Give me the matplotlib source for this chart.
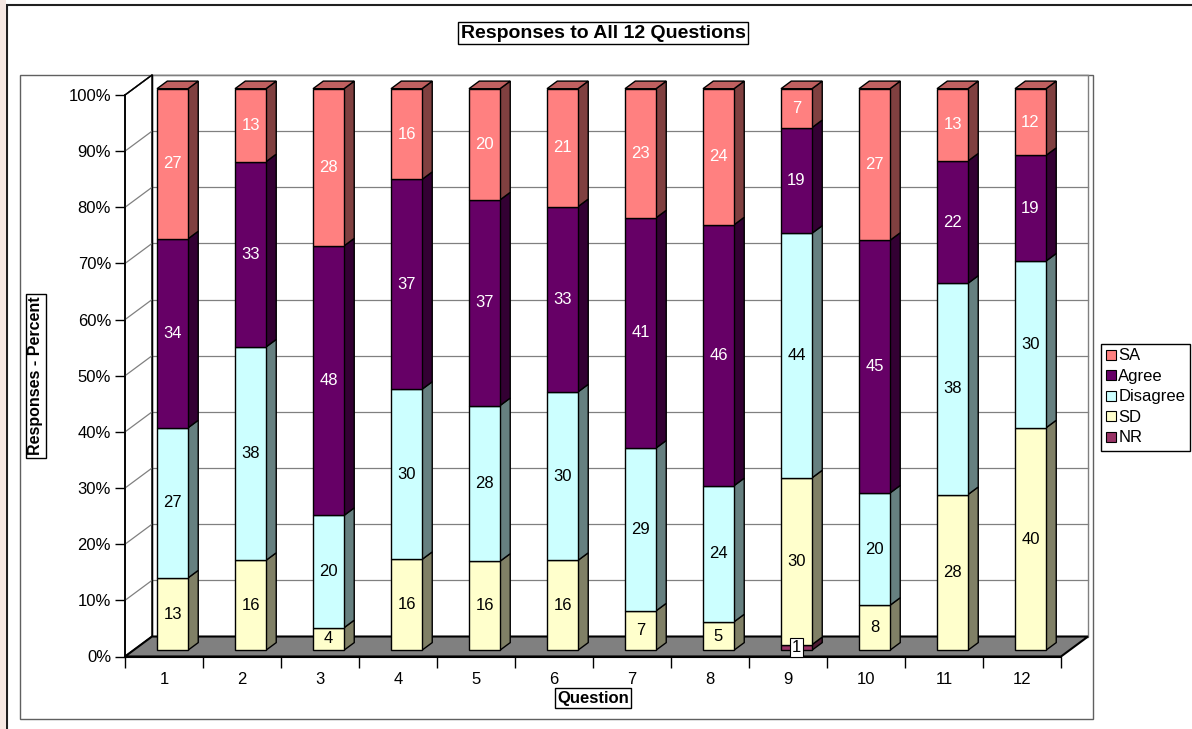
import matplotlib
matplotlib.use("Agg")
import matplotlib.pyplot as plt
import matplotlib.patches as mpatches
from matplotlib.colors import to_rgb
import numpy as np

plt.rcParams['font.family'] = ['Liberation Sans', 'DejaVu Sans']

# --- data ---
questions = ['1', '2', '3', '4', '5', '6', '7', '8', '9', '10', '11', '12']
series = ['NR', 'SD', 'Disagree', 'Agree', 'SA']          # stack order, bottom -> top
nr = [0, 0, 0, 0, 0, 0, 0, 0, 1, 0, 0, 0]
sd = [13, 16, 4, 16, 16, 16, 7, 5, 30, 8, 28, 40]
disagree = [27, 38, 20, 30, 28, 30, 29, 24, 44, 20, 38, 30]
agree = [34, 33, 48, 37, 37, 33, 41, 46, 19, 45, 22, 19]
sa = [27, 13, 28, 16, 20, 21, 23, 24, 7, 27, 13, 12]

colors = {'SA': '#FF8080', 'Agree': '#660066', 'Disagree': '#CCFFFF',
          'SD': '#FFFFCC', 'NR': '#993366'}
label_colors = {'SA': 'white', 'Agree': 'white', 'Disagree': 'black',
                'SD': 'black', 'NR': 'black'}

values = np.array([nr, sd, disagree, agree, sa], dtype=float)
pct = values / values.sum(axis=0) * 100
x = np.arange(1, len(questions) + 1)

# --- 3D look (oblique offsets in data units) ---
DX, DY = 0.346, 3.56        # wall depth
F0, FB = 0.315, 0.38        # bar front position / bar depth as wall fraction
BW = 0.397
ox, oy = F0 * DX, F0 * DY
bdx, bdy = FB * DX, FB * DY


def shade(c, k):
    return tuple(v * k for v in to_rgb(c))


W, H = 1192, 729
fig = plt.figure(figsize=(W / 100, H / 100), dpi=100)
ax = fig.add_axes([125 / W, (H - 656.5) / H, 936 / W, 561.5 / H])
ax.set_xlim(0.5, 12.5)
ax.set_ylim(0, 100)
ax.patch.set_alpha(0)

# walls and floor
x0, x1 = 0.5, 12.5
ax.add_patch(mpatches.Polygon([(x0 + DX, DY), (x1 + DX, DY), (x1 + DX, 100 + DY), (x0 + DX, 100 + DY)],
                              closed=True, facecolor='white', edgecolor='#808080', lw=1,
                              clip_on=False, zorder=0))
ax.add_patch(mpatches.Polygon([(x0, 0), (x0 + DX, DY), (x0 + DX, 100 + DY), (x0, 100)],
                              closed=True, facecolor='white', edgecolor='black', lw=1,
                              clip_on=False, zorder=0))
for v in range(10, 101, 10):
    ax.plot([x0 + DX, x1 + DX], [v + DY, v + DY], color='#808080', lw=0.9, clip_on=False, zorder=1)
    ax.plot([x0, x0 + DX], [v, v + DY], color='#808080', lw=0.9, clip_on=False, zorder=1)
ax.plot([x0, x0 + DX], [100, 100 + DY], color='black', lw=1, clip_on=False, zorder=1)
ax.plot([x0 + DX, x0 + DX], [DY, 100 + DY], color='black', lw=1, clip_on=False, zorder=1)
ax.add_patch(mpatches.Polygon([(x0, 0), (x1, 0), (x1 + DX, DY), (x0 + DX, DY)],
                              closed=True, facecolor='#808080', edgecolor='black', lw=1.5,
                              clip_on=False, zorder=2))

# bars
z = 3
for j, xi in enumerate(x):
    bottom = 0.0
    top_name = None
    for s, name in enumerate(series):
        h = pct[s, j]
        if h <= 0:
            continue
        c = colors[name]
        xl, xr = xi + ox - BW / 2, xi + ox + BW / 2
        b, t = bottom + oy, bottom + h + oy
        ax.add_patch(mpatches.Polygon([(xr, b), (xr + bdx, b + bdy), (xr + bdx, t + bdy), (xr, t)],
                                      closed=True, facecolor=shade(c, 0.5), edgecolor='black',
                                      lw=1, clip_on=False, zorder=z))
        ax.bar(xi + ox, h, bottom=b, width=BW, color=c, edgecolor='black', lw=1,
               clip_on=False, zorder=z + 1)
        if name == 'NR':
            ax.text(xi + ox, b + h / 2, f'{values[s, j]:.0f}', ha='center', va='center',
                    fontsize=12, color='black', zorder=z + 5,
                    bbox=dict(boxstyle='square,pad=0.12', facecolor='white', edgecolor='black', lw=0.8))
        else:
            ax.text(xi + ox, b + h / 2, f'{values[s, j]:.0f}', ha='center', va='center',
                    fontsize=12, color=label_colors[name], zorder=z + 5)
        bottom += h
        top_name = name
    t = bottom + oy
    xl, xr = xi + ox - BW / 2, xi + ox + BW / 2
    ax.add_patch(mpatches.Polygon([(xl, t), (xr, t), (xr + bdx, t + bdy), (xl + bdx, t + bdy)],
                                  closed=True, facecolor=shade(colors[top_name], 0.75),
                                  edgecolor='black', lw=1, clip_on=False, zorder=z))
    z += 1

# axes
for sp in ['top', 'right']:
    ax.spines[sp].set_visible(False)
ax.spines['left'].set_linewidth(1.2)
ax.spines['bottom'].set_linewidth(1.5)
ax.spines['left'].set_zorder(2.5)
ax.spines['bottom'].set_zorder(2.5)
ax.set_yticks(range(0, 101, 10))
ax.set_yticklabels([f'{v}%' for v in range(0, 101, 10)], fontsize=12)
ax.tick_params(axis='y', direction='out', length=7, width=1, pad=3)
ax.set_xticks(np.arange(0.5, 13, 1))
ax.set_xticklabels([])
ax.tick_params(axis='x', which='major', direction='out', length=8, width=1)
ax.set_xticks(x, minor=True)
ax.set_xticklabels(questions, minor=True, fontsize=12)
ax.tick_params(axis='x', which='minor', length=0, pad=11)

# title and axis titles
box = dict(boxstyle='square,pad=0.15', facecolor='white', edgecolor='black', lw=1)
fig.text(603 / W, 1 - 33 / H, 'Responses to All 12 Questions', ha='center', va='center',
         fontsize=14, fontweight='bold', bbox=box)
fig.text(36 / W, 1 - 376 / H, 'Responses - Percent', ha='center', va='center', rotation=90,
         fontsize=11.5, fontweight='bold', bbox=box)
fig.text(593 / W, 1 - 698 / H, 'Question', ha='center', va='center',
         fontsize=12, fontweight='bold', bbox=box)

# legend
handles = [mpatches.Patch(facecolor=colors[n], edgecolor='black', lw=0.8, label=n)
           for n in ['SA', 'Agree', 'Disagree', 'SD', 'NR']]
leg = fig.legend(handles=handles, loc='center right', bbox_to_anchor=(1190 / W, 1 - 397 / H),
                 fontsize=12, frameon=True, fancybox=False, edgecolor='black', framealpha=1,
                 handlelength=0.55, handleheight=0.55, handletextpad=0.15, labelspacing=0.33,
                 borderpad=0.3, borderaxespad=0)
leg.get_frame().set_linewidth(1)

# plot area and chart area borders
fig.patches.append(mpatches.Rectangle((20 / W, 1 - 719 / H), 1073 / W, 644 / H, transform=fig.transFigure,
                                      fill=False, edgecolor='#606060', lw=1, zorder=-1))
fig.patches.append(mpatches.Rectangle((7 / W, -0.01), 1.1, 1 - 5 / H + 0.01, transform=fig.transFigure,
                                      fill=False, edgecolor='#202020', lw=1.5))
fig.patches.append(mpatches.Rectangle((0, 0), 6 / W, 1, transform=fig.transFigure,
                                      facecolor='#F6E8E2', edgecolor='none'))

fig.savefig('out.png', dpi=100)
